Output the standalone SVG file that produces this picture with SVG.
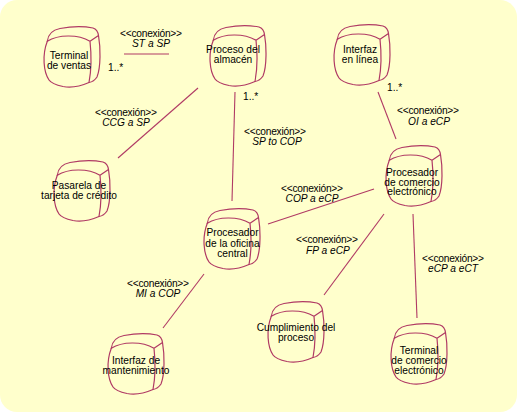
<svg xmlns="http://www.w3.org/2000/svg" xmlns:xlink="http://www.w3.org/1999/xlink" width="517" height="412" viewBox="0 0 517 412">
  <style>
    .bg { fill: #FFFFCC; }
    .conn line { stroke: #B03A64; stroke-width: 1.1; }
    text { font-family: "Liberation Sans", Arial, sans-serif; font-size: 10.2px; fill: #000; }
    .name { text-anchor: middle; }
    .st { text-anchor: middle; }
    .nm { text-anchor: middle; font-style: italic; }
  </style>
  <defs>
    <!-- hand-drawn processor cube, 57 x 60 -->
    <symbol id="cube" overflow="visible">
      <g fill="none" stroke="#B03A64" stroke-width="1.2" stroke-linejoin="round" stroke-linecap="round">
        <path d="M4.3,14.3 C5,8 9,3 17,1.5 C28,-0.5 42,-0.5 50,1 C53,2 55,5 55.5,8.5 C57.5,20 58,40 54,50 C52,53 49,55 46,55.5 C38,59 28,61 20,59.5 C13,58 8,56 6,53 C0.5,45 -1,28 4.3,14.3 Z"/>
        <path d="M4.3,14.3 C15,7.5 35,7 47,14.3 L55.5,8.5 M47,14.3 C48.5,28 48,45 46,55.5"/>
      </g>
    </symbol>
  </defs>

  <rect class="bg" x="0" y="0" width="517" height="412" rx="17" ry="17"/>

  <g id="connectors" class="conn">
    <line x1="124" y1="54" x2="169" y2="54"/>
    <line x1="198" y1="88" x2="118" y2="158"/>
    <line x1="235" y1="92" x2="232" y2="201"/>
    <line x1="378" y1="92" x2="396" y2="139"/>
    <line x1="268" y1="224" x2="374" y2="189"/>
    <line x1="384" y1="214" x2="324" y2="295"/>
    <line x1="413" y1="214" x2="417" y2="318"/>
    <line x1="204" y1="274" x2="163" y2="328"/>

    <text class="st" x="151" y="36.5" textLength="62">&lt;&lt;conexión&gt;&gt;</text>
    <text class="nm" x="151" y="46.5">ST a SP</text>
    <text x="108" y="70.5">1..*</text>

    <text class="st" x="126" y="115.5" textLength="62">&lt;&lt;conexión&gt;&gt;</text>
    <text class="nm" x="126" y="126">CCG a SP</text>

    <text x="243" y="100">1..*</text>
    <text class="st" x="275" y="135" textLength="62">&lt;&lt;conexión&gt;&gt;</text>
    <text class="nm" x="277" y="144.5">SP to COP</text>

    <text x="387" y="90.5">1..*</text>
    <text class="st" x="428" y="114" textLength="62">&lt;&lt;conexión&gt;&gt;</text>
    <text class="nm" x="429" y="125">OI a eCP</text>

    <text class="st" x="312" y="192" textLength="62">&lt;&lt;conexión&gt;&gt;</text>
    <text class="nm" x="312" y="202">COP a eCP</text>

    <text class="st" x="327" y="243" textLength="62">&lt;&lt;conexión&gt;&gt;</text>
    <text class="nm" x="328" y="254">FP a eCP</text>

    <text class="st" x="453" y="262" textLength="62">&lt;&lt;conexión&gt;&gt;</text>
    <text class="nm" x="453" y="272">eCP a eCT</text>

    <text class="st" x="158" y="286.5" textLength="62">&lt;&lt;conexión&gt;&gt;</text>
    <text class="nm" x="158" y="296.5">MI a COP</text>
  </g>

  <g id="terminal-ventas" class="node">
    <use xlink:href="#cube" x="43" y="27"/>
    <text class="name" x="69" y="59">Terminal</text>
    <text class="name" x="69" y="69">de ventas</text>
  </g>

  <g id="proceso-almacen" class="node">
    <use xlink:href="#cube" x="209" y="26"/>
    <text class="name" x="233" y="53">Proceso del</text>
    <text class="name" x="233" y="63">almacén</text>
  </g>

  <g id="interfaz-linea" class="node">
    <use xlink:href="#cube" x="333" y="25"/>
    <text class="name" x="360" y="53">Interfaz</text>
    <text class="name" x="360" y="63">en línea</text>
  </g>

  <g id="pasarela-tarjeta" class="node">
    <use xlink:href="#cube" x="53" y="161"/>
    <text class="name" x="79" y="188.5">Pasarela de</text>
    <text class="name" x="79" y="198.5">tarjeta de crédito</text>
  </g>

  <g id="procesador-oficina" class="node">
    <use xlink:href="#cube" x="203" y="209"/>
    <text class="name" x="232.5" y="236">Procesador</text>
    <text class="name" x="232.5" y="246.5">de la oficina</text>
    <text class="name" x="232.5" y="256.5">central</text>
  </g>

  <g id="procesador-comercio" class="node">
    <use xlink:href="#cube" x="385" y="146"/>
    <text class="name" x="412" y="175.5">Procesador</text>
    <text class="name" x="412" y="185.5">de comercio</text>
    <text class="name" x="412" y="195">electrónico</text>
  </g>

  <g id="interfaz-mantenimiento" class="node">
    <use xlink:href="#cube" x="107" y="334"/>
    <text class="name" x="136" y="363.5">Interfaz de</text>
    <text class="name" x="136" y="373.5">mantenimiento</text>
  </g>

  <g id="cumplimiento-proceso" class="node">
    <use xlink:href="#cube" x="267" y="302"/>
    <text class="name" x="296" y="330.5">Cumplimiento del</text>
    <text class="name" x="296" y="340.5">proceso</text>
  </g>

  <g id="terminal-comercio" class="node">
    <use xlink:href="#cube" x="390" y="324"/>
    <text class="name" x="419" y="353.5">Terminal</text>
    <text class="name" x="419" y="363.5">de comercio</text>
    <text class="name" x="419" y="373.5">electrónico</text>
  </g>
</svg>
